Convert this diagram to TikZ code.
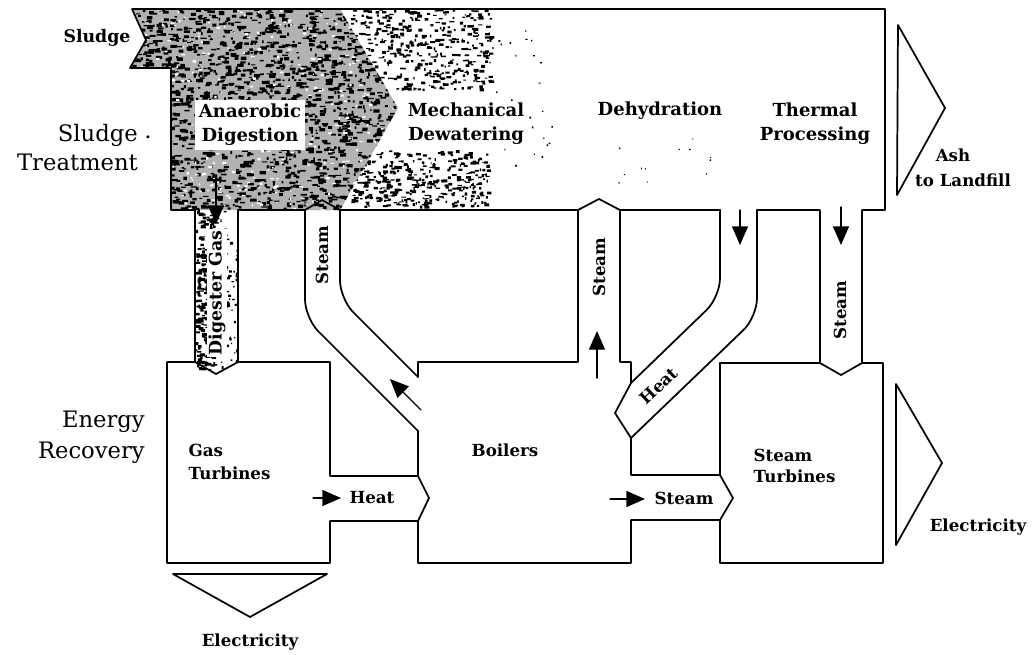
\documentclass[tikz,border=0pt]{standalone}
\usepackage{fontspec}
\setmainfont{DejaVu Serif}
\usetikzlibrary{arrows.meta}
\begin{document}
\begin{tikzpicture}[x=0.75pt,y=-0.75pt,line join=round,line cap=round,
  wall/.style={line width=1.3pt},
  pipe/.style={line width=1.3pt,rounded corners=14pt},
  flow/.style={line width=1pt,-{Triangle[length=14pt,width=12pt]}},
  big/.style={font=\fontsize{17}{20}\selectfont,inner sep=0pt},
  proc/.style={font=\bfseries\fontsize{13.5}{18}\selectfont,align=center},
  lab/.style={font=\bfseries\fontsize{12.5}{16}\selectfont,inner sep=1pt},
  halo/.style={fill=white,inner sep=2pt},
  stipple/.style={black}]
\fill[white] (0,0) rectangle (1036,654);
\useasboundingbox (0,0) rectangle (1036,654);
\pgfmathsetseed{17}
% ---- textures ----
\begin{scope}
  \clip (132,9)--(340,9)--(398,108)--(340,210)--(171,210)--(171,68)--(130,68)--(146,40)--cycle;
  \fill[black!30] (128,8) rectangle (400,212);
  \fill[stipple] \foreach \i in {1,...,2000} {({128+272*rnd},{8+204*rnd}) rectangle ++({1.5+5*rnd},{1+2.5*rnd})};
  \fill[white] \foreach \i in {1,...,350} {({128+272*rnd},{8+204*rnd}) rectangle ++({1+3*rnd},{1+1.5*rnd})};
\end{scope}
\begin{scope}
  \clip (195,209) rectangle (238,374);
  \fill[stipple] \foreach \i in {1,...,280} {({195+22*rnd},{209+160*rnd}) rectangle ++({1.5+4*rnd},{1+2.5*rnd})};
  \fill[stipple] \foreach \i in {1,...,70} {({217+20*rnd},{209+160*rnd}) rectangle ++({1+2*rnd},{1+2*rnd})};
\end{scope}
\begin{scope}
  \clip (340,9)--(520,9)--(573,107)--(518,210)--(340,210)--(398,108)--cycle;
  \fill[stipple] \foreach \i in {1,...,430} {({340+150*rnd},{9+80*rnd}) rectangle ++({1.2+4*rnd},{1+2*rnd})};
  \fill[stipple] \foreach \i in {1,...,420} {({342+145*rnd},{150+56*rnd}) rectangle ++({1.2+4*rnd},{1+2*rnd})};
  \fill[stipple] \foreach \i in {1,...,35} {({490+70*rnd},{30+150*rnd}) rectangle ++({1+1.2*rnd},{1+1.2*rnd})};
\end{scope}
\fill[stipple] \foreach \i in {1,...,12} {({600+120*rnd},{130+55*rnd}) rectangle ++({0.8+0.8*rnd},{0.8+0.8*rnd})};
% ---- walls ----
\draw[wall] (195,362)--(195,210)--(171,210)--(171,68)--(130,68)--(146,40)--(132,9)--(885,9)--(885,210)--(862,210)--(862,363);
\draw[wall] (238,362)--(238,210)--(305,210);
\draw[pipe] (305,210)--(305,318)--(418,431);
\draw[wall] (418,431)--(418,476);
\draw[wall] (305,210)--(322,200)--(340,210);
\draw[pipe] (340,210)--(340,299)--(418,377);
\draw[wall] (418,377)--(418,362)--(578,362)--(578,210)--(340,210);
\draw[wall] (578,210)--(599,199)--(620,210);
\draw[wall] (620,210)--(620,362)--(631,362)--(631,383);
\draw[pipe] (720,210)--(720,297)--(631,383);
\draw[wall] (620,210)--(720,210);
\draw[wall] (631,383)--(615,413)--(631,438);
\draw[pipe] (757,210)--(757,317)--(631,438);
\draw[wall] (631,438)--(631,475)--(720,475)--(720,363)--(820,363)--(820,210)--(757,210);
\draw[wall] (820,363)--(841,375)--(862,363);
\draw[wall] (862,363)--(883,363)--(883,563)--(720,563)--(720,520)--(733,498)--(720,475);
\draw[wall] (720,520)--(631,520)--(631,563)--(418,563)--(418,521)--(429,498)--(418,476)--(330,476)--(330,362)--(238,362);
\draw[wall] (418,521)--(330,521)--(330,563)--(167,563)--(167,362)--(195,362)--(216,374)--(238,362);
% outputs
\draw[wall] (898,25)--(945,108)--(897,195)--cycle;
\draw[wall] (896,384)--(942,463)--(896,545)--cycle;
\draw[wall] (173,574)--(327,574)--(250,617)--cycle;
% ---- flow arrows ----
\coordinate (dgA) at (216,178); \coordinate (dgB) at (216,224);
\coordinate (htA) at (313,498); \coordinate (htB) at (341,498);
\coordinate (smA) at (610,499); \coordinate (smB) at (645,499);
\coordinate (upA) at (597,378); \coordinate (upB) at (597,331);
\coordinate (dgnA) at (421,410); \coordinate (dgnB) at (390,379);
\coordinate (h2A) at (740,210); \coordinate (h2B) at (740,245);
\coordinate (s3A) at (841,207); \coordinate (s3B) at (841,245);
\draw[flow] (dgA)--(dgB);
\draw[flow] (htA)--(htB);
\draw[flow] (smA)--(smB);
\draw[flow] (upA)--(upB);
\draw[flow] (dgnA)--(dgnB);
\draw[flow] (h2A)--(h2B);
\draw[flow] (s3A)--(s3B);
% ---- texts ----
\node[lab,font=\bfseries\fontsize{13}{16}\selectfont] (sludgein) at (97,38) {Sludge};
\node[big,anchor=east] (st1) at (138,135) {Sludge};
\node[big] (st1dot) at (148,137) {.};
\node[big,anchor=east] (st2) at (138,162) {Treatment};
\node[big,anchor=east] (er1) at (145,422) {Energy};
\node[big,anchor=east] (er2) at (145,453) {Recovery};
\node[proc,halo,inner sep=3pt] (anaer) at (250,125) {Anaerobic\\Digestion};
\node[proc,halo] (mech) at (466,124) {Mechanical\\Dewatering};
\node[proc] (dehyd) at (660,111) {Dehydration};
\node[proc] (therm) at (815,124) {Thermal\\Processing};
\node[lab] (ash) at (953,155) {Ash};
\node[lab] (landfill) at (963,180) {to Landfill};
\node[lab,halo,inner sep=1pt,rotate=90,font=\bfseries\fontsize{13}{16}\selectfont] (dgas) at (217,293) {Digester Gas};
\node[lab,rotate=90] (steam1) at (322,255) {Steam};
\node[lab,rotate=90] (steam2) at (599,267) {Steam};
\node[lab,rotate=90] (steam3) at (840,310) {Steam};
\node[lab,rotate=43.5,inner sep=0pt] (heat2) at (659,386) {Heat};
\node[lab,align=left,anchor=west,font=\bfseries\fontsize{12.5}{17}\selectfont] (gasturb) at (187,462) {Gas\\Turbines};
\node[lab] (boilers) at (505,450) {Boilers};
\node[lab,align=left,anchor=west,font=\bfseries\fontsize{12.5}{15.5}\selectfont] (stturb) at (752,466) {Steam\\Turbines};
\node[lab] (heat1) at (372,498) {Heat};
\node[lab] (steam4) at (684,498) {Steam};
\node[lab] (elec1) at (250,642) {Electricity};
\node[lab] (elec2) at (978,527) {Electricity};
\end{tikzpicture}
\end{document}
